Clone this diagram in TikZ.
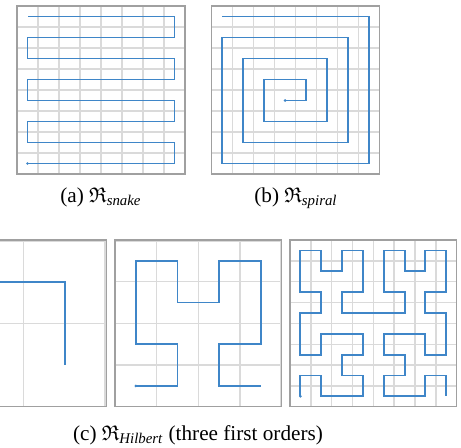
\documentclass[tikz,border=0pt]{standalone}
\usepackage{amsmath,amssymb}
\usepackage{fontspec}
\setmainfont{Liberation Serif}
\usepackage{tikz}
\definecolor{CurveBlue}{HTML}{3F86C8}
\definecolor{GridGray}{HTML}{DADADA}
\definecolor{FrameGray}{HTML}{A0A0A0}

\begin{document}
\begin{tikzpicture}[x=0.5pt,y=0.5pt,
  gridline/.style={GridGray,line width=0.7pt,step={(1,1)}},
  frame/.style={FrameGray,line width=0.75pt},
  curve/.style={CurveBlue,line width=0.95pt},
  startdot/.style={fill=CurveBlue},
  caption/.style={anchor=base,inner sep=0pt,font=\fontsize{10.6}{12}\selectfont}]
  \useasboundingbox (0,0) rectangle (461,-447);
  \clip (0,0) rectangle (461,-447);
  % (a) snake
  \begin{scope}[shift={(17,-174)},scale=21]
    \draw[gridline] (0,0) grid (8,8);
    \draw[frame] (0,0) rectangle (8,8);
    \begin{scope}[shift={(0.5,0.5)}]
      \draw[curve] (0,0)--(7,0)--(7,1)--(0,1)--(0,2)--(7,2)--(7,3)--(0,3)
        --(0,4)--(7,4)--(7,5)--(0,5)--(0,6)--(7,6)--(7,7)--(0,7);
      \fill[startdot] (0,0) circle (0.07);
    \end{scope}
  \end{scope}
  % (b) spiral
  \begin{scope}[shift={(211.7,-174)},scale=21]
    \draw[gridline] (0,0) grid (8,8);
    \draw[frame] (0,0) rectangle (8,8);
    \begin{scope}[shift={(0.5,0.5)}]
      \draw[curve] (3,3)--(4,3)--(4,4)--(2,4)--(2,2)--(5,2)--(5,5)--(1,5)
        --(1,1)--(6,1)--(6,6)--(0,6)--(0,0)--(7,0)--(7,7)--(0,7);
      \fill[startdot] (3,3) circle (0.07);
    \end{scope}
  \end{scope}
  \node[caption] (capA) at (101,-202) {(a) $\mathfrak{R}_{\textit{snake}}$};
  \node[caption] (capB) at (296,-202) {(b) $\mathfrak{R}_{\textit{spiral}}$};

  % (c) Hilbert, orders 1 to 3
  \begin{scope}[shift={(-60,-406.7)},scale=83.33]
    \draw[gridline] (0,0) grid (2,2);
    \draw[frame] (0,0) rectangle (2,2);
    \begin{scope}[shift={(0.5,0.5)}]
      \draw[curve] plot coordinates {(0,0) (0,1) (1,1) (1,0)};
      \fill[startdot] (0,0) circle (0.0175);
    \end{scope}
  \end{scope}
  \begin{scope}[shift={(115,-406.7)},scale=41.67]
    \draw[gridline] (0,0) grid (4,4);
    \draw[frame] (0,0) rectangle (4,4);
    \begin{scope}[shift={(0.5,0.5)}]
      \draw[curve] plot coordinates {(0,0) (1,0) (1,1) (0,1) (0,2) (0,3) (1,3) (1,2)
        (2,2) (2,3) (3,3) (3,2) (3,1) (2,1) (2,0) (3,0)};
      \fill[startdot] (0,0) circle (0.035);
    \end{scope}
  \end{scope}
  \begin{scope}[shift={(290,-406.7)},scale=20.83]
    \draw[gridline] (0,0) grid (8,8);
    \draw[frame] (0,0) rectangle (8,8);
    \begin{scope}[shift={(0.5,0.5)}]
      \draw[curve] plot coordinates {
        (0,0) (0,1) (1,1) (1,0) (2,0) (3,0) (3,1) (2,1) (2,2) (3,2) (3,3) (2,3) (1,3) (1,2) (0,2) (0,3)
        (0,4) (1,4) (1,5) (0,5) (0,6) (0,7) (1,7) (1,6) (2,6) (2,7) (3,7) (3,6) (3,5) (2,5) (2,4) (3,4)
        (4,4) (5,4) (5,5) (4,5) (4,6) (4,7) (5,7) (5,6) (6,6) (6,7) (7,7) (7,6) (7,5) (6,5) (6,4) (7,4)
        (7,3) (7,2) (6,2) (6,3) (5,3) (4,3) (4,2) (5,2) (5,1) (4,1) (4,0) (5,0) (6,0) (6,1) (7,1) (7,0)};
      \fill[startdot] (0,0) circle (0.07);
    \end{scope}
  \end{scope}
  \node[caption] (capC) at (198,-440) {(c) $\mathfrak{R}_{\textit{Hilbert}}$ (three first orders)};
\end{tikzpicture}
\end{document}
